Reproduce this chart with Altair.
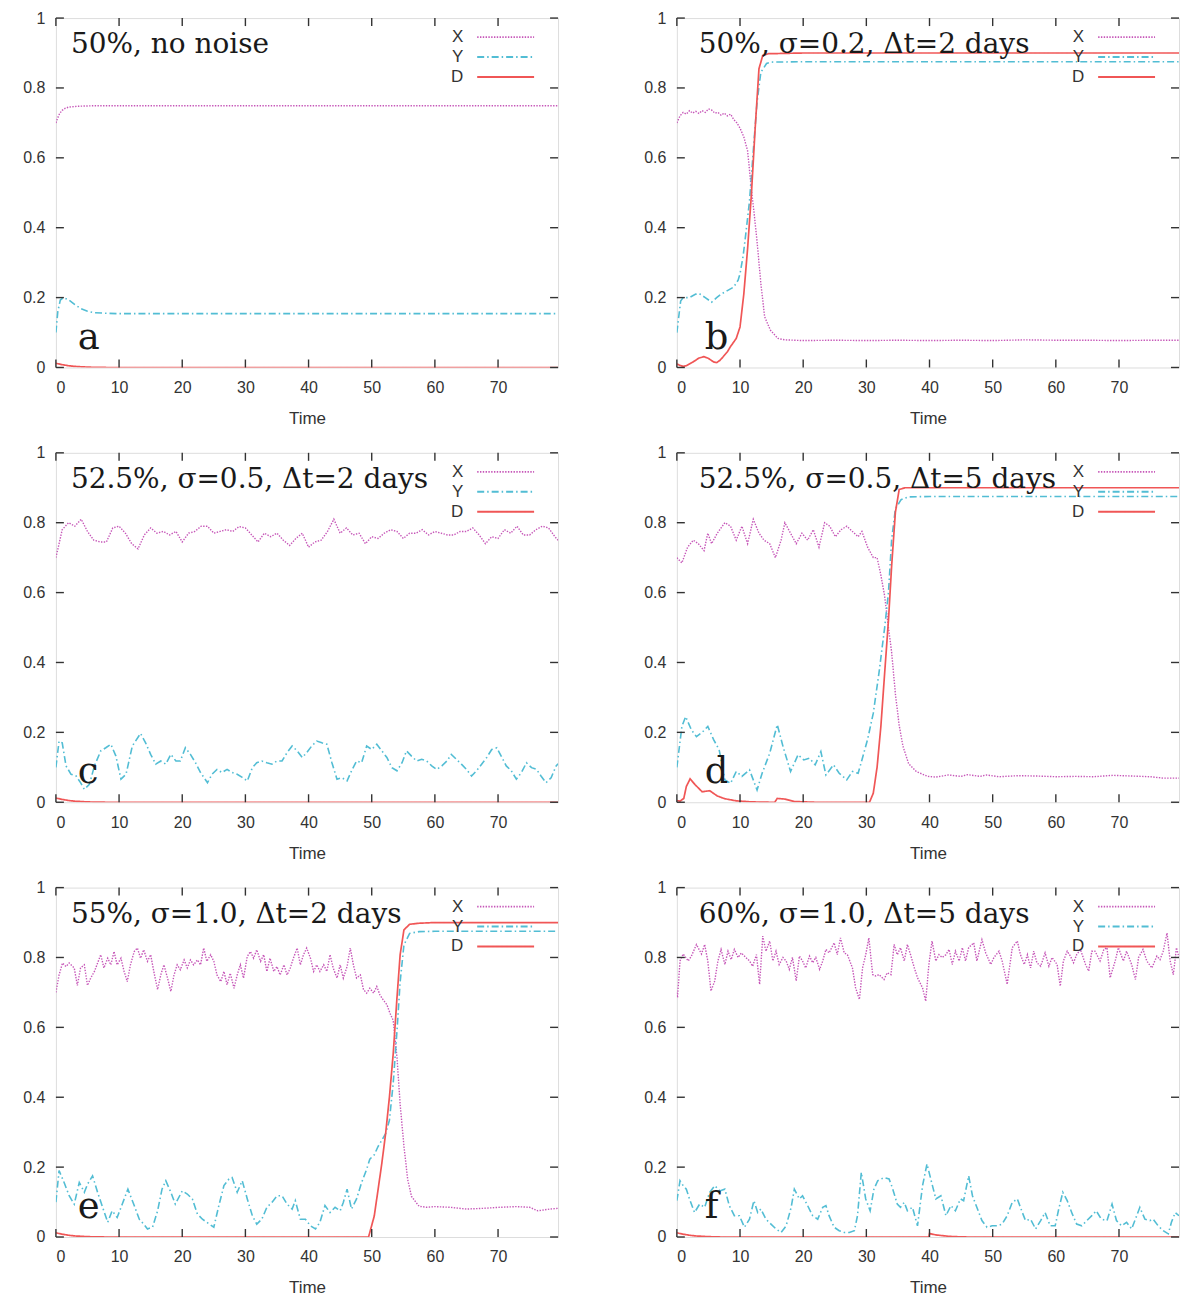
import altair as alt
import pandas as pd

# ---------------- data ----------------
SERIES = ["X", "Y", "D"]
X_TICKS = [0, 10, 20, 30, 40, 50, 60, 70]
Y_TICKS = [0, 0.2, 0.4, 0.6, 0.8, 1.0]
T_MAX = 79.5

PANEL_LABELS = ["50%, no noise", "50%, σ=0.2, Δt=2 days", "52.5%, σ=0.5, Δt=2 days",
                "52.5%, σ=0.5, Δt=5 days", "55%, σ=1.0, Δt=2 days", "60%, σ=1.0, Δt=5 days"]
PANEL_LETTERS = ["a", "b", "c", "d", "e", "f"]

# panel a
a_x = [(0, 0.70), (0.3, 0.715), (0.6, 0.727), (1, 0.736), (1.5, 0.742), (2, 0.745), (3, 0.747),
       (4, 0.748), (6, 0.749), (10, 0.749), (79.5, 0.749)]
a_y = [(0, 0.10), (0.3, 0.16), (0.7, 0.193), (1.2, 0.200), (2, 0.194), (3, 0.18), (4, 0.168),
       (5, 0.161), (6, 0.157), (8, 0.155), (10, 0.154), (79.5, 0.154)]
a_d = [(0, 0.012), (1, 0.008), (2, 0.005), (3, 0.003), (4, 0.002), (5, 0.001), (6, 0.0005),
       (8, 0), (79.5, 0)]

# panel b
b_x = [(0, 0.70), (0.5, 0.72), (1, 0.73), (1.5, 0.725), (2, 0.735), (2.5, 0.728), (3, 0.733),
       (3.5, 0.727), (4, 0.735), (4.5, 0.73), (5, 0.74), (5.5, 0.737), (6, 0.728), (6.5, 0.73),
       (7, 0.722), (7.5, 0.728), (8, 0.72), (8.5, 0.725), (9, 0.71), (9.5, 0.70), (10, 0.685),
       (10.6, 0.66), (11.2, 0.62), (11.8, 0.51), (12.3, 0.43), (12.7, 0.36), (13.3, 0.24),
       (13.9, 0.145), (14.8, 0.107), (16, 0.083), (17.1, 0.079), (20, 0.077), (25, 0.078),
       (30, 0.077), (35, 0.078), (40, 0.077), (45, 0.078), (50, 0.077), (55, 0.079), (60, 0.078),
       (65, 0.078), (70, 0.077), (75, 0.078), (79.5, 0.078)]
b_y = [(0, 0.10), (0.6, 0.19), (1, 0.20), (2, 0.20), (3, 0.21), (3.5, 0.212), (4.5, 0.20),
       (5.5, 0.187), (6.3, 0.20), (7, 0.21), (8, 0.22), (9, 0.23), (9.7, 0.25), (10, 0.268),
       (10.5, 0.32), (10.9, 0.38), (11.5, 0.476), (12.1, 0.62), (12.7, 0.76), (13.3, 0.845),
       (14.2, 0.87), (15, 0.874), (20, 0.875), (79.5, 0.875)]
b_d = [(0, 0.01), (0.5, 0.006), (1, 0.003), (1.5, 0.005), (2.5, 0.015), (3.5, 0.027), (4.3, 0.031),
       (5, 0.026), (5.8, 0.016), (6.3, 0.014), (6.8, 0.02), (7.3, 0.03), (8, 0.045), (8.5, 0.06),
       (9.4, 0.083), (10, 0.116), (10.6, 0.21), (11.2, 0.34), (11.8, 0.495), (12.4, 0.685),
       (13, 0.855), (13.6, 0.893), (14.5, 0.898), (20, 0.90), (79.5, 0.90)]

# panel c
c_x_vals = [0.70, 0.78, 0.80, 0.79, 0.81, 0.775, 0.75, 0.745, 0.745, 0.785, 0.79, 0.77, 0.74, 0.725,
            0.765, 0.785, 0.77, 0.775, 0.765, 0.775, 0.745, 0.77, 0.775, 0.79, 0.79, 0.77, 0.775,
            0.78, 0.775, 0.789, 0.785, 0.765, 0.745, 0.77, 0.76, 0.77, 0.75, 0.735, 0.755, 0.77,
            0.73, 0.745, 0.75, 0.775, 0.81, 0.77, 0.785, 0.765, 0.77, 0.74, 0.76, 0.755, 0.77,
            0.78, 0.775, 0.755, 0.77, 0.77, 0.78, 0.765, 0.775, 0.77, 0.765, 0.765, 0.775, 0.775,
            0.785, 0.765, 0.74, 0.76, 0.755, 0.78, 0.77, 0.79, 0.765, 0.765, 0.78, 0.79, 0.785,
            0.76]
c_x_times = list(range(80))
c_y = [(0, 0.10), (0.5, 0.175), (1.0, 0.17), (1.6, 0.104), (2.4, 0.08), (3.2, 0.075), (3.9, 0.056),
       (4.5, 0.037), (5.3, 0.051), (6.1, 0.104), (7.1, 0.147), (7.9, 0.156), (8.7, 0.166),
       (9.5, 0.132), (10.3, 0.066), (11.1, 0.08), (12.1, 0.161), (13.4, 0.197), (14.2, 0.170),
       (15.0, 0.137), (15.8, 0.109), (16.6, 0.118), (17.4, 0.109), (18.2, 0.137), (19.0, 0.118),
       (19.7, 0.118), (20.5, 0.156), (21.3, 0.137), (22.1, 0.113), (22.9, 0.085), (24.0, 0.056),
       (24.7, 0.08), (25.5, 0.094), (26.3, 0.085), (27.1, 0.094), (27.9, 0.085), (28.7, 0.08),
       (29.5, 0.071), (30.3, 0.061), (31.1, 0.099), (31.8, 0.113), (32.6, 0.118), (33.4, 0.113),
       (34.2, 0.109), (35.0, 0.118), (35.8, 0.118), (36.6, 0.142), (37.4, 0.161), (38.2, 0.147),
       (39.0, 0.128), (39.7, 0.142), (40.5, 0.161), (41.3, 0.175), (42.1, 0.170), (42.9, 0.166),
       (43.7, 0.113), (44.5, 0.066), (45.3, 0.07), (46.1, 0.061), (46.8, 0.09), (47.6, 0.118),
       (48.4, 0.113), (49.2, 0.161), (50.0, 0.151), (50.8, 0.166), (51.6, 0.147), (52.4, 0.128),
       (53.2, 0.099), (54.0, 0.09), (54.8, 0.113), (55.5, 0.147), (56.3, 0.132), (57.1, 0.118),
       (57.9, 0.123), (58.7, 0.118), (59.5, 0.104), (60.3, 0.094), (61.1, 0.104), (61.9, 0.118),
       (62.6, 0.137), (63.4, 0.123), (64.2, 0.109), (65.0, 0.094), (65.8, 0.075), (66.6, 0.090),
       (67.4, 0.109), (68.2, 0.128), (69.0, 0.151), (69.8, 0.156), (70.5, 0.132), (71.3, 0.104),
       (72.1, 0.09), (72.9, 0.066), (73.7, 0.085), (74.5, 0.113), (75.3, 0.099), (76.1, 0.094),
       (76.8, 0.075), (77.6, 0.056), (78.4, 0.07), (79.2, 0.104), (79.5, 0.11)]
c_d = [(0, 0.012), (1, 0.008), (2, 0.005), (3, 0.003), (4, 0.002), (5, 0.001), (6, 0.0005),
       (8, 0), (79.5, 0)]

# panel d
d_x = [(0, 0.70), (0.8, 0.685), (1.7, 0.73), (2.6, 0.75), (3.4, 0.74), (4.3, 0.72), (4.9, 0.77),
       (5.5, 0.74), (6.4, 0.77), (7.6, 0.80), (8.5, 0.79), (9.4, 0.75), (10.3, 0.79), (11.2, 0.74),
       (12.1, 0.81), (13, 0.77), (13.8, 0.75), (14.7, 0.74), (15.6, 0.70), (16.5, 0.75),
       (17.1, 0.80), (18, 0.77), (18.9, 0.74), (19.8, 0.77), (20.7, 0.75), (21.6, 0.78),
       (22.5, 0.73), (23.4, 0.80), (24.2, 0.79), (25.1, 0.76), (26, 0.78), (26.9, 0.79),
       (27.8, 0.775), (28.7, 0.76), (29.3, 0.775), (30.2, 0.73), (31.1, 0.70), (31.7, 0.70),
       (32.3, 0.65), (32.9, 0.59), (33.5, 0.50), (34, 0.43), (34.6, 0.31), (35.2, 0.22),
       (35.8, 0.16), (36.7, 0.11), (37.9, 0.088), (39.7, 0.074), (41, 0.072), (43, 0.078),
       (45, 0.074), (46, 0.079), (48, 0.074), (49, 0.078), (51, 0.073), (54, 0.076), (57, 0.075),
       (60, 0.073), (63, 0.074), (66, 0.073), (69, 0.077), (72, 0.075), (75, 0.073), (77, 0.069),
       (79.5, 0.069)]
d_y = [(0, 0.10), (0.8, 0.217), (1.4, 0.245), (2.3, 0.207), (3.1, 0.188), (4, 0.20), (4.9, 0.217),
       (5.8, 0.18), (6.7, 0.15), (7.6, 0.064), (8.5, 0.054), (9.4, 0.088), (10.3, 0.074),
       (11.5, 0.093), (12.7, 0.035), (13.5, 0.083), (14.7, 0.14), (15.9, 0.222), (16.8, 0.16),
       (18, 0.088), (19.2, 0.136), (20.1, 0.121), (21, 0.126), (21.9, 0.107), (22.8, 0.145),
       (23.6, 0.078), (24.8, 0.107), (25.7, 0.083), (26.9, 0.064), (27.8, 0.088), (28.7, 0.083),
       (29.3, 0.121), (30.2, 0.18), (31.1, 0.255), (32, 0.37), (32.9, 0.50), (33.5, 0.60),
       (34, 0.75), (34.6, 0.84), (35.5, 0.866), (36.7, 0.874), (40, 0.875), (79.5, 0.875)]
d_d = [(0, 0.005), (0.5, 0.003), (1.1, 0.011), (1.5, 0.045), (2.1, 0.067), (2.9, 0.05), (4, 0.03),
       (5.2, 0.033), (6.4, 0.018), (7.6, 0.01), (9.4, 0.004), (11.8, 0.001), (14.7, 0),
       (15.5, 0), (15.9, 0.011), (17.1, 0.009), (18.6, 0.002), (21.9, 0), (30.5, 0),
       (31.1, 0.026), (31.7, 0.10), (32.3, 0.217), (32.9, 0.37), (33.5, 0.52), (34, 0.675),
       (34.6, 0.83), (35.2, 0.895), (36.1, 0.90), (40, 0.90), (79.5, 0.90)]

# panel e
e_x = [(0, 0.70), (0.5, 0.75), (1.05, 0.784), (1.6, 0.774), (2.1, 0.784), (2.9, 0.77), (3.4, 0.72),
       (3.9, 0.77), (4.5, 0.779), (5, 0.72), (5.5, 0.741), (6.1, 0.76), (6.6, 0.784), (7.1, 0.808),
       (7.6, 0.77), (8.2, 0.798), (8.7, 0.779), (9.2, 0.817), (9.7, 0.779), (10.3, 0.798),
       (10.8, 0.76), (11.3, 0.731), (11.8, 0.779), (12.4, 0.817), (12.9, 0.827), (13.4, 0.798),
       (13.9, 0.822), (14.5, 0.789), (15, 0.808), (15.5, 0.76), (16.1, 0.708), (16.6, 0.75),
       (17.1, 0.779), (17.6, 0.746), (18.2, 0.703), (18.7, 0.75), (19.2, 0.779), (19.7, 0.765),
       (20.3, 0.793), (20.8, 0.77), (21.3, 0.793), (21.8, 0.779), (22.4, 0.793), (22.9, 0.779),
       (23.4, 0.827), (23.9, 0.789), (24.5, 0.808), (25, 0.789), (25.5, 0.75), (26.1, 0.731),
       (26.6, 0.76), (27.1, 0.722), (27.6, 0.755), (28.2, 0.712), (28.7, 0.75), (29.2, 0.779),
       (29.7, 0.741), (30.3, 0.803), (30.8, 0.817), (31.3, 0.798), (31.8, 0.822), (32.4, 0.789),
       (32.9, 0.808), (33.4, 0.76), (33.9, 0.798), (34.5, 0.76), (35, 0.774), (35.5, 0.75),
       (36.1, 0.779), (36.6, 0.75), (37.1, 0.77), (37.6, 0.798), (38.2, 0.827), (38.7, 0.779),
       (39.2, 0.808), (39.7, 0.827), (40.3, 0.798), (40.8, 0.76), (41.3, 0.779), (41.8, 0.76),
       (42.4, 0.779), (42.9, 0.76), (43.4, 0.808), (43.9, 0.77), (44.5, 0.741), (45, 0.779),
       (45.5, 0.741), (46.1, 0.774), (46.6, 0.827), (47.1, 0.779), (47.6, 0.741), (48.2, 0.75),
       (48.7, 0.708), (49.2, 0.698), (49.7, 0.712), (50.3, 0.698), (50.8, 0.717), (51.3, 0.693),
       (51.8, 0.679), (52.4, 0.665), (52.9, 0.64), (53.4, 0.62), (54, 0.514), (54.5, 0.38),
       (55.1, 0.26), (55.7, 0.164), (56.3, 0.116), (57.5, 0.088), (58.7, 0.085), (60, 0.087),
       (62.4, 0.085), (65, 0.08), (67.6, 0.082), (70.3, 0.085), (72.9, 0.087), (75, 0.085),
       (76.3, 0.075), (78.2, 0.08), (79.5, 0.082)]
e_y = [(0, 0.10), (0.5, 0.19), (1.3, 0.156), (2.1, 0.118), (2.9, 0.094), (3.7, 0.156), (4.5, 0.128),
       (5, 0.151), (5.8, 0.175), (6.6, 0.128), (7.4, 0.085), (8.2, 0.042), (8.9, 0.075), (9.7, 0.056),
       (10.5, 0.094), (11.4, 0.137), (12.4, 0.09), (13.2, 0.051), (13.9, 0.037), (14.5, 0.023),
       (15.3, 0.028), (16.1, 0.075), (16.8, 0.137), (17.4, 0.161), (18.2, 0.128), (18.9, 0.094),
       (20, 0.132), (20.8, 0.123), (21.6, 0.109), (22.4, 0.066), (23.2, 0.051), (23.9, 0.042),
       (25, 0.028), (25.8, 0.09), (26.6, 0.147), (27.4, 0.166), (27.9, 0.17), (28.7, 0.128),
       (29.5, 0.161), (30.3, 0.109), (31.1, 0.061), (31.8, 0.037), (32.6, 0.051), (33.4, 0.085),
       (34.2, 0.099), (35, 0.118), (35.8, 0.118), (36.6, 0.094), (37.4, 0.08), (37.9, 0.104),
       (38.7, 0.051), (39.5, 0.051), (40.3, 0.032), (41.1, 0.023), (41.8, 0.042), (42.6, 0.09),
       (43.4, 0.07), (44.2, 0.085), (45, 0.075), (45.5, 0.099), (46.1, 0.137), (46.8, 0.08),
       (47.6, 0.109), (48.4, 0.156), (49.2, 0.194), (49.7, 0.223), (50.4, 0.235), (51, 0.259),
       (51.6, 0.277), (52.2, 0.296), (52.8, 0.334), (53.4, 0.44), (54, 0.59), (54.5, 0.73),
       (55.1, 0.836), (56, 0.869), (57.5, 0.874), (60, 0.875), (79.5, 0.875)]
e_d = [(0, 0.012), (1, 0.008), (2, 0.005), (3, 0.003), (4, 0.002), (5, 0.001), (6, 0.0005), (8, 0),
       (49.5, 0), (50.4, 0.06), (51, 0.135), (51.6, 0.211), (52.2, 0.296), (52.8, 0.40),
       (53.4, 0.524), (54, 0.685), (54.5, 0.808), (55.1, 0.879), (56, 0.895), (57.5, 0.898),
       (60, 0.90), (79.5, 0.90)]

# panel f
f_x = [(0, 0.70), (0.1, 0.685), (0.5, 0.79), (1, 0.81), (1.8, 0.79), (2.3, 0.804), (3.1, 0.837),
       (3.9, 0.81), (4.4, 0.837), (4.9, 0.79), (5.4, 0.704), (6, 0.733), (6.5, 0.79), (7, 0.823),
       (7.6, 0.78), (8.1, 0.818), (8.6, 0.794), (9.1, 0.823), (9.7, 0.80), (10.2, 0.813),
       (10.7, 0.804), (11.5, 0.79), (12, 0.775), (12.6, 0.808), (13.1, 0.723), (13.6, 0.861),
       (14.1, 0.818), (14.7, 0.847), (15.2, 0.79), (15.7, 0.818), (16.2, 0.78), (16.8, 0.80),
       (17.3, 0.79), (17.8, 0.766), (18.3, 0.80), (18.9, 0.733), (19.4, 0.804), (19.9, 0.79),
       (20.4, 0.77), (21, 0.804), (21.5, 0.785), (22, 0.80), (22.6, 0.766), (23.1, 0.79),
       (23.6, 0.823), (24.1, 0.813), (24.9, 0.842), (25.4, 0.808), (25.9, 0.856), (26.5, 0.813),
       (27, 0.808), (27.8, 0.77), (28.3, 0.713), (28.9, 0.68), (29.4, 0.77), (29.9, 0.808),
       (30.4, 0.856), (31, 0.751), (31.5, 0.747), (32, 0.751), (32.8, 0.737), (33.3, 0.756),
       (33.9, 0.751), (34.4, 0.837), (34.9, 0.808), (35.4, 0.828), (36, 0.79), (36.5, 0.837),
       (37, 0.808), (37.6, 0.77), (38.1, 0.742), (38.9, 0.713), (39.4, 0.675), (39.9, 0.78),
       (40.4, 0.847), (41, 0.79), (41.5, 0.808), (42, 0.80), (42.6, 0.808), (43.1, 0.823),
       (43.6, 0.78), (44.1, 0.818), (44.7, 0.79), (45.2, 0.828), (45.7, 0.79), (46.2, 0.828),
       (47, 0.842), (47.5, 0.79), (48.3, 0.851), (48.9, 0.813), (49.7, 0.78), (50.2, 0.80),
       (51, 0.818), (51.5, 0.79), (52.3, 0.723), (53.1, 0.828), (53.9, 0.847), (54.4, 0.808),
       (55, 0.78), (55.5, 0.808), (56, 0.77), (56.5, 0.818), (57, 0.785), (57.6, 0.775),
       (58.3, 0.813), (58.9, 0.775), (59.4, 0.80), (60.2, 0.78), (60.7, 0.718), (61.2, 0.79),
       (61.8, 0.818), (62.3, 0.804), (62.8, 0.785), (63.3, 0.808), (63.9, 0.823), (64.7, 0.78),
       (65.2, 0.761), (65.7, 0.818), (66.2, 0.818), (67, 0.79), (67.6, 0.823), (68.1, 0.828),
       (68.6, 0.742), (69.4, 0.79), (69.9, 0.828), (70.7, 0.79), (71.2, 0.818), (72, 0.78),
       (72.6, 0.737), (73.1, 0.80), (73.8, 0.823), (74.4, 0.79), (75.2, 0.77), (76, 0.804),
       (76.5, 0.794), (77, 0.818), (77.6, 0.87), (78.1, 0.79), (78.6, 0.751), (79.1, 0.828),
       (79.5, 0.80)]
f_y = [(0, 0.104), (0.5, 0.161), (1, 0.147), (1.5, 0.137), (2, 0.109), (2.8, 0.07), (3.6, 0.094),
       (4.4, 0.085), (5.2, 0.128), (6, 0.147), (6.8, 0.132), (7.6, 0.137), (8.3, 0.09), (9.1, 0.061),
       (9.9, 0.061), (10.7, 0.028), (11.5, 0.051), (12.2, 0.104), (12.8, 0.07), (13.3, 0.08),
       (14.1, 0.051), (14.9, 0.037), (15.7, 0.023), (16.5, 0.013), (17.3, 0.032), (18.1, 0.085),
       (18.6, 0.137), (19.4, 0.109), (19.9, 0.118), (20.7, 0.09), (21.5, 0.061), (22.3, 0.051),
       (23.1, 0.085), (23.6, 0.09), (24.1, 0.061), (24.9, 0.028), (25.7, 0.018), (26.5, 0.013),
       (27.3, 0.013), (28.1, 0.018), (28.6, 0.061), (29.2, 0.185), (29.9, 0.109), (30.6, 0.075),
       (31.2, 0.137), (31.8, 0.161), (32.8, 0.17), (33.6, 0.166), (34.1, 0.142), (34.9, 0.094),
       (35.4, 0.085), (36, 0.099), (36.5, 0.075), (37.3, 0.085), (38.1, 0.032), (38.9, 0.147),
       (39.6, 0.209), (40.2, 0.166), (41, 0.109), (41.8, 0.118), (42.6, 0.061), (43.4, 0.09),
       (44.1, 0.075), (44.9, 0.109), (45.4, 0.104), (46.2, 0.175), (46.8, 0.118), (47.6, 0.08),
       (48.3, 0.047), (49.1, 0.028), (49.9, 0.032), (50.7, 0.032), (51.5, 0.037), (52.3, 0.061),
       (53.1, 0.099), (53.9, 0.109), (54.7, 0.07), (55.2, 0.047), (56, 0.051), (56.8, 0.023),
       (57.6, 0.047), (58.3, 0.07), (59.1, 0.032), (59.9, 0.032), (60.4, 0.075), (61.1, 0.128),
       (61.8, 0.104), (62.6, 0.066), (63.3, 0.037), (64.1, 0.032), (64.9, 0.047), (65.7, 0.061),
       (66.4, 0.075), (67.2, 0.051), (68.1, 0.047), (68.9, 0.094), (69.6, 0.047), (70.4, 0.032),
       (71.2, 0.042), (72, 0.023), (72.8, 0.061), (73.3, 0.085), (74.1, 0.051), (74.9, 0.047),
       (75.4, 0.051), (76.2, 0.032), (77, 0.018), (77.8, 0.009), (78.3, 0.042), (78.9, 0.07),
       (79.5, 0.061)]
f_d = [(0, 0.012), (1, 0.008), (2, 0.005), (3, 0.003), (4, 0.002), (5, 0.001), (7, 0), (39.9, 0),
       (40, 0.01), (41, 0.006), (42, 0.004), (43, 0.002), (44, 0.001), (46, 0), (79.5, 0)]

c_x = list(zip(c_x_times, c_x_vals)) + [(79.5, 0.75)]

PANELS = [
    {"X": a_x, "Y": a_y, "D": a_d},
    {"X": b_x, "Y": b_y, "D": b_d},
    {"X": c_x, "Y": c_y, "D": c_d},
    {"X": d_x, "Y": d_y, "D": d_d},
    {"X": e_x, "Y": e_y, "D": e_d},
    {"X": f_x, "Y": f_y, "D": f_d},
]

# ---------------- styling ----------------
W, H = 503, 350
COLORS = {"X": "#c656b8", "Y": "#52bdd4", "D": "#f05656"}
DASHES = {"X": [1.4, 1.4], "Y": [7, 3, 1.5, 3], "D": [1, 0]}
WIDTHS = {"X": 1.4, "Y": 1.6, "D": 1.7}
INK = "#333333"
SANS = "Liberation Sans"
SERIF = "DejaVu Serif"

x_scale = alt.Scale(domain=[0, T_MAX], nice=False, zero=False)
y_scale = alt.Scale(domain=[0, 1], nice=False)
x_axis = alt.Axis(values=X_TICKS, title="Time", domain=False, ticks=False, grid=False,
                  labelFont=SANS, labelFontSize=16, labelColor=INK, labelPadding=12,
                  titleFont=SANS, titleFontSize=17, titleFontWeight="normal", titleColor=INK,
                  titlePadding=15)
y_axis = alt.Axis(values=Y_TICKS, title=None, domain=False, ticks=False, grid=False, format="~g",
                  labelFont=SANS, labelFontSize=16, labelColor=INK, labelPadding=11)


def X(field):
    return alt.X(field, type="quantitative", scale=x_scale, axis=x_axis)


def Y(field):
    return alt.Y(field, type="quantitative", scale=y_scale, axis=y_axis)


def one(text):
    return alt.Chart(pd.DataFrame({"s": [text]}))


def panel(idx):
    col = idx % 2
    data = PANELS[idx]
    layers = []
    for s in SERIES:
        df = pd.DataFrame(data[s], columns=["t", "v"])
        layers.append(
            alt.Chart(df).mark_line(color=COLORS[s], strokeWidth=WIDTHS[s],
                                    strokeDash=DASHES[s], clip=True)
            .encode(x=X("t"), y=Y("v"))
        )
    # inward ticks (gnuplot style) on all four sides
    xt = pd.DataFrame({"t": X_TICKS})
    yt = pd.DataFrame({"v": Y_TICKS})
    layers.append(alt.Chart(xt).mark_rule(color=INK, strokeWidth=1.4)
                  .encode(x=X("t"), y=alt.value(H), y2=alt.value(H - 8)))
    layers.append(alt.Chart(xt).mark_rule(color=INK, strokeWidth=1.4)
                  .encode(x=X("t"), y=alt.value(0), y2=alt.value(8)))
    layers.append(alt.Chart(yt).mark_rule(color=INK, strokeWidth=1.4)
                  .encode(y=Y("v"), x=alt.value(0), x2=alt.value(8)))
    layers.append(alt.Chart(yt).mark_rule(color=INK, strokeWidth=1.4)
                  .encode(y=Y("v"), x=alt.value(W), x2=alt.value(W - 8)))
    # in-plot legend (labels left of samples)
    for k, s in enumerate(SERIES):
        yy = 19 + 20 * k
        layers.append(one(s).mark_text(align="right", baseline="middle", font=SANS,
                                       fontSize=17, color=INK)
                      .encode(text="s:N", x=alt.value(408), y=alt.value(yy)))
        layers.append(one(s).mark_rule(color=COLORS[s], strokeWidth=WIDTHS[s] + 0.3,
                                       strokeDash=DASHES[s])
                      .encode(x=alt.value(422), x2=alt.value(479), y=alt.value(yy)))
    # panel heading and letter
    layers.append(one(PANEL_LABELS[idx]).mark_text(align="left", baseline="alphabetic",
                                                   font=SERIF, fontSize=28, color="#1a1a1a")
                  .encode(text="s:N", x=alt.value(15 if col == 0 else 22), y=alt.value(35)))
    layers.append(one(PANEL_LETTERS[idx]).mark_text(align="left", baseline="alphabetic",
                                                    font=SERIF, fontSize=37, color="#1a1a1a")
                  .encode(text="s:N", x=alt.value(22 if col == 0 else 28), y=alt.value(331)))
    return alt.layer(*layers).properties(width=W, height=H)


chart = alt.concat(*[panel(i) for i in range(6)], columns=2,
                   spacing={"row": 85.5, "column": 119}, bounds="flush").properties(
    padding={"left": 22, "top": 8, "right": 0, "bottom": 0}
).configure_view(stroke=INK, strokeWidth=1.5).configure(background="white")

chart.save("out.html", embed_options={"renderer": "svg", "actions": False})
